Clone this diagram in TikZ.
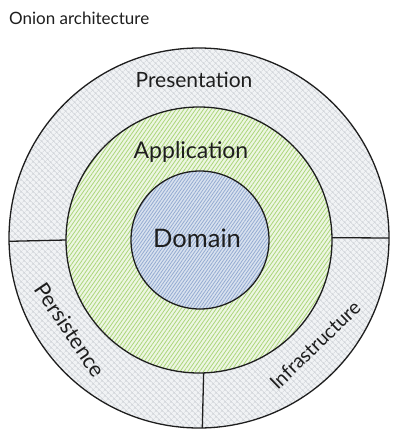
\documentclass[tikz,border=0pt]{standalone}
\usepackage{fontspec}
\setmainfont{Lato}
\usetikzlibrary{patterns.meta}
\definecolor{ink}{HTML}{1E1E1E}
\definecolor{grayfill}{HTML}{F1F3F5}
\definecolor{grayhatch}{HTML}{D0D4D9}
\definecolor{greenfill}{HTML}{EDF6E2}
\definecolor{greenhatch}{HTML}{ABD67A}
\definecolor{bluefill}{HTML}{D9E2EF}
\definecolor{bluehatch}{HTML}{93AAD1}
\tikzset{
  ring/.style={circle, draw=ink, line width=1.3pt, inner sep=0pt, outer sep=0pt},
  divider/.style={draw=ink, line width=1.3pt},
  label/.style={text=ink, inner sep=0pt},
}
\begin{document}
\begin{tikzpicture}[x=1pt,y=-1pt]
\useasboundingbox (0,0) rectangle (400,439);
\fill[white] (0,0) rectangle (400,439);
% rings
\node[ring, minimum size=380pt,
  preaction={fill=grayfill},
  pattern={Hatch[angle=45,distance=4pt,line width=0.5pt]}, pattern color=grayhatch] (outer) at (199,238) {};
\node[ring, minimum size=266pt,
  preaction={fill=greenfill},
  pattern={Lines[angle=55,distance=3.2pt,line width=0.8pt]}, pattern color=greenhatch] (app) at (199,240) {};
\node[ring, minimum size=138pt,
  preaction={fill=bluefill},
  pattern={Lines[angle=55,distance=2.6pt,line width=0.8pt]}, pattern color=bluehatch] (dom) at (200,240) {};
% dividers
\draw[divider] (outer.181) -- (app.180.4);
\draw[divider] (app.1.3) -- (outer.0.3);
\draw[divider] (app.272.6) -- (outer.271.8);
% labels
\node[label, anchor=west, font=\fontsize{17}{20}\selectfont] (title) at (9,18) {Onion architecture};
\node[label, font=\fontsize{21}{24}\selectfont] (pres) at (194,80) {Presentation};
\node[label, font=\fontsize{23}{27}\selectfont] (appl) at (191,152) {Application};
\node[label, font=\fontsize{25.5}{30}\selectfont] (domt) at (197,238) {Domain};
\node[label, rotate=-56, font=\fontsize{21.5}{25}\selectfont] (pers) at (70,330) {Persistence};
\node[label, rotate=44, font=\fontsize{19.5}{23}\selectfont] (infra) at (315,345) {Infrastructure};
\end{tikzpicture}
\end{document}
